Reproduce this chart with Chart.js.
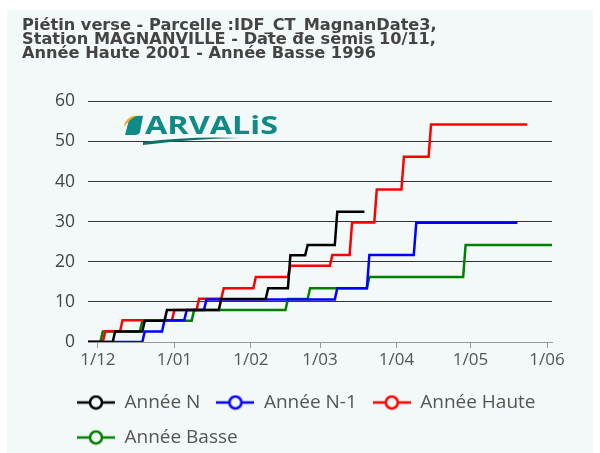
<!DOCTYPE html>
<html>
<head>
<meta charset="utf-8">
<script src="https://cdn.jsdelivr.net/npm/chart.js"></script>
<style>
html, body { margin: 0; padding: 0; background: #fff; overflow: hidden; }
</style>
</head>
<body>
<canvas id="chart" width="600" height="453"></canvas>
<script>
// x axis: days counted from 1 December
var origin = '2022-12-01';
var xStart = '2022-11-27', xEnd = '2023-06-03';
var tickDates = ['2022-12-01', '2023-01-01', '2023-02-01', '2023-03-01', '2023-04-01', '2023-05-01', '2023-06-01'];
var tickLabels = ['1/12', '1/01', '1/02', '1/03', '1/04', '1/05', '1/06'];
var yTicks = [0, 10, 20, 30, 40, 50, 60];

var titleLines = [
  'Piétin verse - Parcelle :IDF_CT_MagnanDate3,',
  'Station MAGNANVILLE - Date de semis 10/11,',
  'Année Haute 2001 - Année Basse 1996'
];
var seriesNames = ['Année N', 'Année N-1', 'Année Haute', 'Année Basse'];
var seriesColors = ['#000000', '#0000ff', '#ff0000', '#008000'];

// each date is the day a new level is reached (last one = end of series)
var nDates = ['2022-11-27', '2022-12-08', '2022-12-20', '2022-12-29', '2023-01-20', '2023-02-08', '2023-02-17', '2023-02-24', '2023-03-08', '2023-03-19'];
var nValues = [0, 2.6, 5.3, 8, 10.7, 13.4, 21.6, 24.2, 32.5, 32.5];

var n1Dates = ['2022-11-27', '2022-12-20', '2022-12-28', '2023-01-06', '2023-01-14', '2023-03-08', '2023-03-21', '2023-04-09', '2023-05-20'];
var n1Values = [0, 2.6, 5.4, 8, 10.6, 13.4, 21.7, 29.7, 29.7];

var hauteDates = ['2022-11-27', '2022-12-04', '2022-12-11', '2023-01-01', '2023-01-11', '2023-01-21', '2023-02-03', '2023-02-17', '2023-03-06', '2023-03-14', '2023-03-24', '2023-04-04', '2023-04-15', '2023-05-24'];
var hauteValues = [0, 2.7, 5.4, 8, 10.8, 13.4, 16.2, 19, 21.7, 29.8, 38, 46.2, 54.2, 54.2];

var basseDates = ['2022-11-27', '2022-12-03', '2022-12-19', '2023-01-09', '2023-02-16', '2023-02-25', '2023-03-21', '2023-04-29', '2023-06-03'];
var basseValues = [0, 2.6, 5.3, 8, 10.7, 13.4, 16.2, 24.2, 24.2];

function day(d) {
  return (Date.parse(d) - Date.parse(origin)) / 864e5;
}

// cumulative daily values: the level changes from one day to the next
function steps(dates, values) {
  var pts = [];
  for (var i = 0; i < dates.length; i++) {
    if (i > 0 && values[i] !== values[i - 1]) {
      pts.push({x: day(dates[i]) - 1, y: values[i - 1]});
    }
    pts.push({x: day(dates[i]), y: values[i]});
  }
  return pts;
}

var panelColor = '#f3f8f9';

function legendMarker(color) {
  var c = document.createElement('canvas');
  c.width = 38; c.height = 16;
  var g = c.getContext('2d');
  g.strokeStyle = color;
  g.lineWidth = 2.5;
  g.beginPath(); g.moveTo(0, 8); g.lineTo(38, 8); g.stroke();
  g.fillStyle = panelColor;
  g.beginPath(); g.arc(19, 8, 6, 0, Math.PI * 2); g.fill(); g.stroke();
  return c;
}

function makeSet(i, dates, values) {
  return {
    label: seriesNames[i],
    data: steps(dates, values),
    borderColor: seriesColors[i],
    backgroundColor: seriesColors[i],
    borderWidth: 2.5,
    pointRadius: 0,
    pointStyle: legendMarker(seriesColors[i]),
    tension: 0,
    fill: false
  };
}

var panel = {
  id: 'panel',
  beforeDraw: function(chart) {
    var ctx = chart.ctx;
    ctx.save();
    ctx.fillStyle = panelColor;
    ctx.fillRect(7, 10, 586, 443);
    ctx.restore();
  },
  afterLayout: function(chart) {
    // legend rows start under the plot, not at the title's edge
    chart.legend.left = 61;
    chart.legend.top += 4;
  }
};

var logo = {
  id: 'logo',
  beforeDatasetsDraw: function(chart) {
    var ctx = chart.ctx;
    ctx.save();
    ctx.fillStyle = '#0f8a86';
    ctx.beginPath();
    ctx.moveTo(129, 120); ctx.quadraticCurveTo(134, 115, 143, 116);
    ctx.lineTo(140, 132); ctx.quadraticCurveTo(139, 135, 135, 135);
    ctx.lineTo(125, 135); ctx.closePath();
    ctx.fill();
    ctx.fillStyle = '#f5a81c';
    ctx.beginPath();
    ctx.moveTo(124, 127); ctx.quadraticCurveTo(125, 117, 137, 115);
    ctx.lineTo(133, 118); ctx.lineTo(129, 121); ctx.closePath();
    ctx.fill();
    ctx.fillStyle = '#0f8a86';
    ctx.font = 'bold 25px "Open Sans"';
    var w = ctx.measureText('ARVALiS').width;
    ctx.translate(145, 134);
    ctx.scale(133 / w, 1);
    ctx.textBaseline = 'alphabetic';
    ctx.fillText('ARVALiS', 0, 0);
    ctx.restore();
    ctx.save();
    ctx.fillStyle = '#0b6f6c';
    ctx.beginPath();
    ctx.moveTo(143, 142);
    ctx.quadraticCurveTo(190, 136, 240, 138);
    ctx.quadraticCurveTo(190, 139, 143, 145);
    ctx.closePath();
    ctx.fill();
    ctx.restore();
  }
};

new Chart(document.getElementById('chart'), {
  type: 'line',
  data: {
    datasets: [
      makeSet(0, nDates, nValues),
      makeSet(1, n1Dates, n1Values),
      makeSet(2, hauteDates, hauteValues),
      makeSet(3, basseDates, basseValues)
    ]
  },
  options: {
    responsive: false,
    animation: false,
    layout: { padding: { left: 22, right: 48, top: 0, bottom: 0 } },
    plugins: {
      title: {
        display: true,
        align: 'start',
        text: titleLines,
        color: '#444',
        font: { family: 'DejaVu Sans', size: 16.2, weight: 'bold', lineHeight: 0.85 },
        padding: { top: 19, bottom: 41 }
      },
      legend: {
        position: 'bottom',
        align: 'start',
        labels: {
          usePointStyle: true,
          pointStyleWidth: 38,
          padding: 16,
          color: '#555',
          font: { family: 'Open Sans', size: 19 }
        }
      },
      tooltip: { enabled: false }
    },
    scales: {
      x: {
        type: 'linear',
        min: day(xStart),
        max: day(xEnd),
        afterBuildTicks: function(scale) {
          scale.ticks = tickDates.map(function(d) { return {value: day(d)}; });
        },
        afterFit: function(scale) { scale.height = 31; },
        ticks: {
          autoSkip: false,
          maxRotation: 0,
          padding: 2,
          color: '#555',
          font: { family: 'Open Sans', size: 17 },
          callback: function(v, i) { return tickLabels[i]; }
        },
        grid: { drawOnChartArea: false, drawTicks: true, tickLength: 6, color: '#999' },
        border: { display: true, color: '#999', width: 1 }
      },
      y: {
        min: 0,
        max: 60,
        afterBuildTicks: function(scale) {
          scale.ticks = yTicks.map(function(v) { return {value: v}; });
        },
        afterFit: function(scale) { scale.width = 66; },
        ticks: {
          padding: 13,
          color: '#444',
          font: { family: 'Open Sans', size: 17.5 }
        },
        grid: {
          drawTicks: false,
          color: function(ctx) { return ctx.tick && ctx.tick.value === 0 ? 'rgba(0,0,0,0)' : '#333'; }
        },
        border: { display: false }
      }
    }
  },
  plugins: [panel, logo]
});
</script>
</body>
</html>
